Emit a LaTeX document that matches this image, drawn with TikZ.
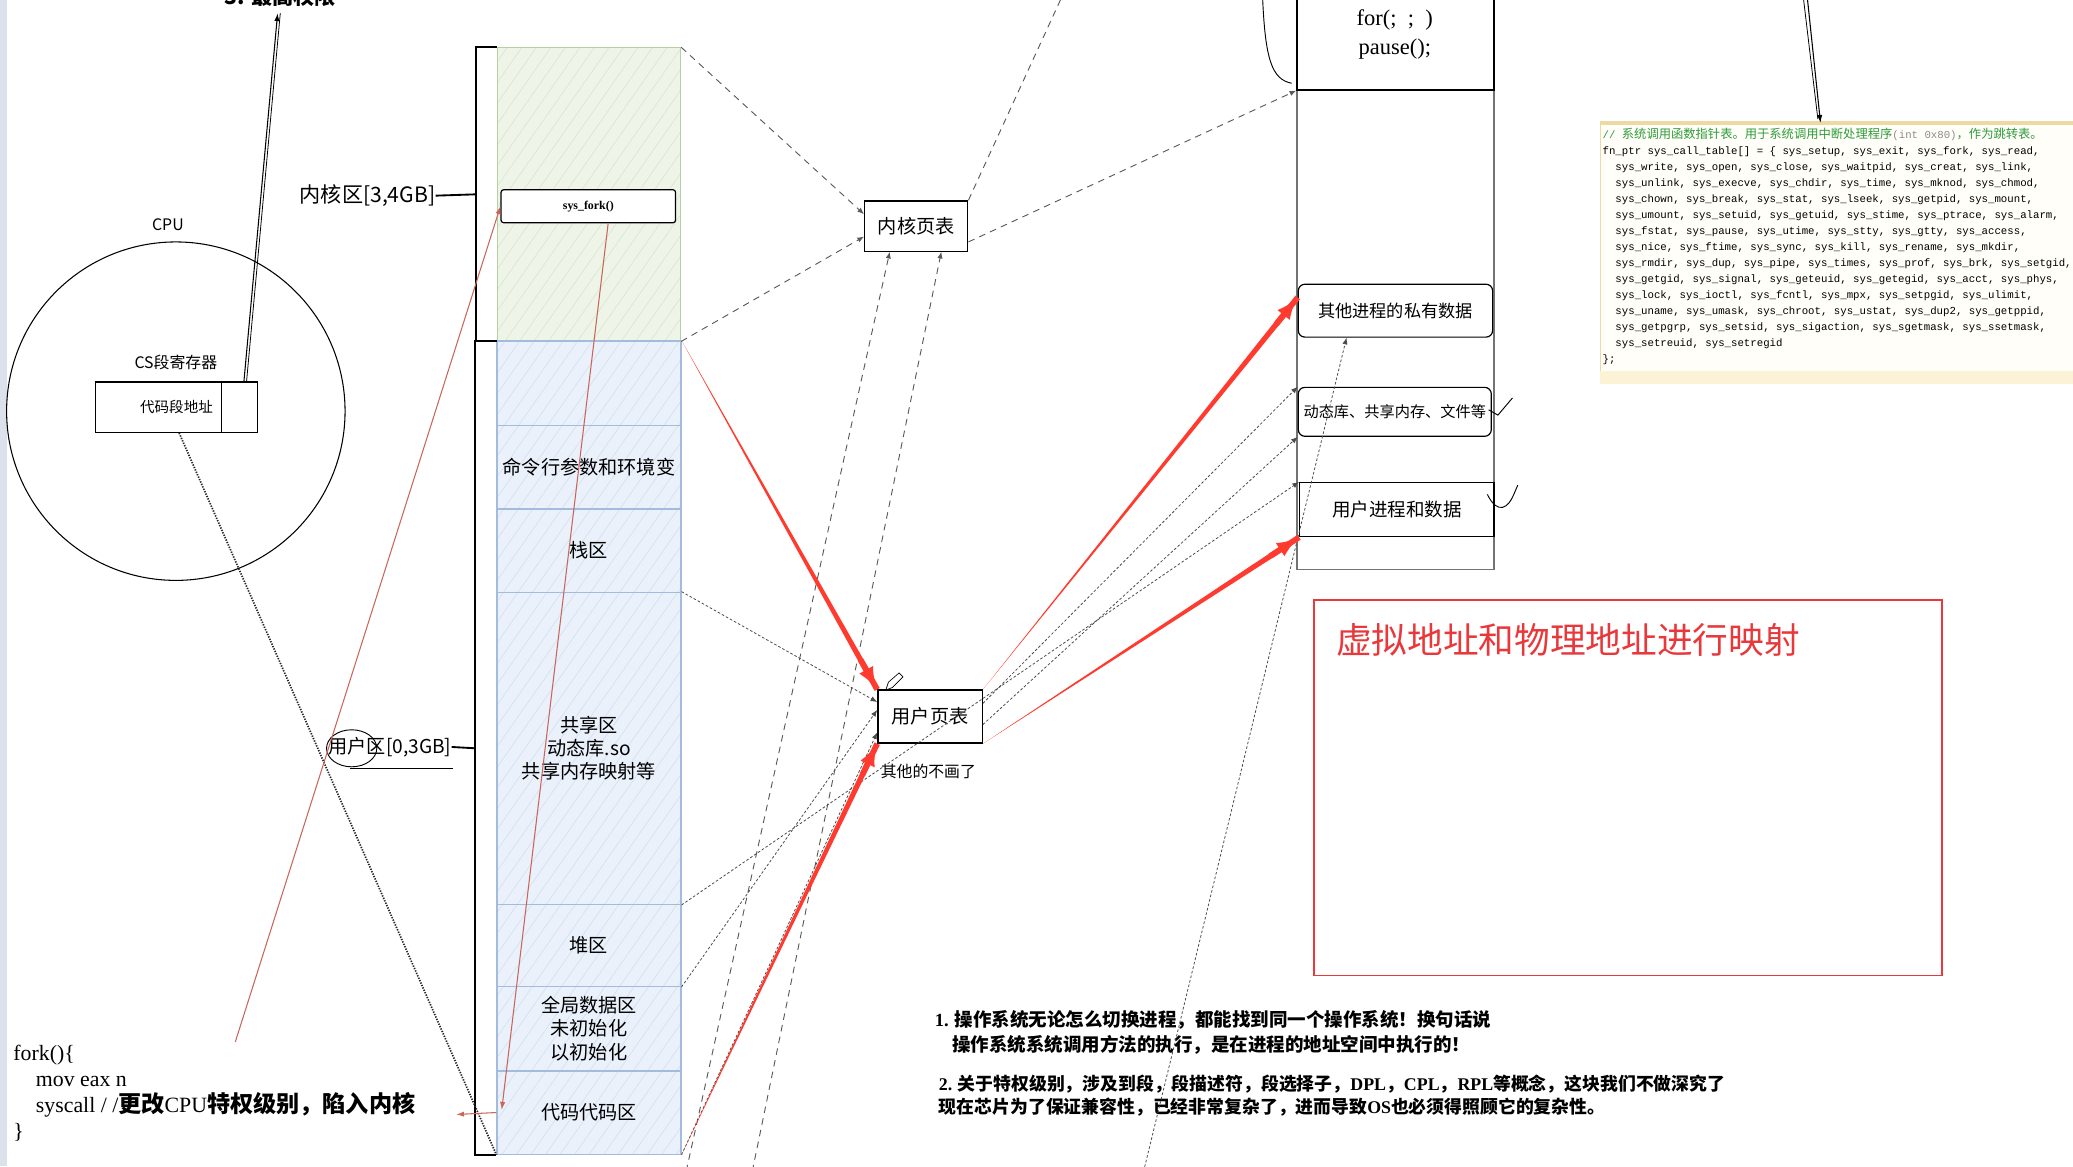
\documentclass[tikz,border=0pt]{standalone}
\usepackage{fontspec}
\setmainfont{Liberation Serif}
\newfontfamily\cjk{Noto Sans CJK SC}
\newfontfamily\codefont{Liberation Mono}
\usetikzlibrary{arrows.meta, calc, patterns.meta}

\definecolor{kfill}{HTML}{EEF5E8}
\definecolor{kedge}{HTML}{B5D1A3}
\definecolor{khatch}{HTML}{D8E7CC}
\definecolor{ufill}{HTML}{EAF1FA}
\definecolor{uedge}{HTML}{A3BCDB}
\definecolor{uhatch}{HTML}{D3E1F2}
\definecolor{redhot}{HTML}{FF3B30}
\definecolor{redthin}{HTML}{C9665A}
\definecolor{mapred}{HTML}{E8383B}
\definecolor{tabedge}{HTML}{EFD9A2}
\definecolor{tabband}{HTML}{FCF2D6}
\definecolor{tabfill}{HTML}{FFFEF8}
\definecolor{cmtgreen}{HTML}{2F9B3A}
\definecolor{strip}{HTML}{DCE2EC}

\tikzset{
  >=Latex,
  kernblk/.style={
    draw=kedge, line width=0.8pt, preaction={fill=kfill},
    pattern={Lines[angle=55,distance=9pt,line width=0.5pt]}, pattern color=khatch,
    minimum width=139pt, inner sep=0pt
  },
  userblk/.style={
    draw=uedge, line width=1pt, preaction={fill=ufill},
    pattern={Lines[angle=55,distance=9pt,line width=0.5pt]}, pattern color=uhatch,
    minimum width=139pt, inner sep=0pt, align=center,
    font=\cjk\fontsize{14.5}{17.5}\selectfont
  },
  forkbox/.style={
    draw, line width=0.9pt, fill=white, rounded corners=2pt,
    minimum width=132pt, minimum height=25pt, font=\bfseries\fontsize{9}{10}\selectfont
  },
  ptab/.style={
    draw, line width=1pt, fill=white, minimum width=78pt, minimum height=38pt,
    font=\cjk\fontsize{14.5}{17}\selectfont
  },
  physbox/.style={
    draw, line width=0.9pt, fill=white, rounded corners=5pt, minimum width=147pt,
    font=\cjk\fontsize{13}{15}\selectfont
  },
  hand/.style={font=\cjk\fontsize{#1}{#1}\selectfont, inner sep=0pt},
  note/.style={font=\cjk\bfseries\fontsize{14}{19}\selectfont, align=left, inner sep=0pt},
  bracket/.style={line width=1.4pt, draw=black},
  kdash/.style={draw=black!65, line width=0.7pt, dash pattern=on 5pt off 4pt,
    -{Latex[length=5pt,width=4pt]}},
  udot/.style={draw=black!70, line width=0.6pt, dash pattern=on 2pt off 1.5pt,
    -{Latex[length=5pt,width=4pt]}},
  densedot/.style={draw=black!85, line width=1.3pt, dash pattern=on 1pt off 1pt},
  thinred/.style={draw=redthin, line width=0.8pt, -{Latex[length=6pt,width=4pt]}},
  sketch/.style={draw=black, line width=0.8pt, -{Latex[length=6pt,width=4pt]}}
}

% tapered red arrow, thin at the start
\newcommand\redtaper[2]{%
  \fill[redhot] (#1) -- ($(#2)!2.2pt!90:(#1)$) -- ($(#2)!2.2pt!-90:(#1)$) -- cycle;
  \draw[redhot, line width=4.4pt, -{Latex[length=17pt,width=12pt]}] ($(#2)!26pt!(#1)$) -- (#2);
}

\begin{document}
\begin{tikzpicture}[x=1pt, y=-1pt]
  \useasboundingbox (0,0) rectangle (1568,882);
  \fill[strip] (0,0) rectangle (5,882);

  % CPU
  \node[circle, draw, line width=0.8pt, minimum size=256pt, inner sep=0pt] (cpu) at (133,311) {};
  \node[hand=12] (cpulbl) at (127,170) {CPU};
  \node[hand=12] (reglbl) at (133,274) {CS段寄存器};
  \node[draw, line width=1pt, fill=white, minimum width=123pt, minimum height=38pt,
        font=\cjk\fontsize{11}{12}\selectfont] (reg) at (133.5,308) {代码段地址};
  \draw[line width=0.8pt] ([xshift=-28pt]reg.north east) -- ([xshift=-28pt]reg.south east);
  \node[font=\cjk\bfseries\fontsize{16}{18}\selectfont] (captop) at (212,-3) {3. 最高权限};
  \coordinate (capin) at (210,10);
  \draw[sketch] ([xshift=-11pt]reg.north east) -- (capin);
  \draw[line width=0.6pt] ([xshift=-9pt]reg.north east) -- ([xshift=2pt]capin);

  % virtual address space
  \node[kernblk, minimum height=222pt] (kern) at (445.5,147) {};
  \node[forkbox] (fork) at (445,156) {sys\_fork()};
  \node[userblk, minimum height=64pt] (uhead) at (445.5,290) {};
  \node[userblk, minimum height=63pt] (args) at (445.5,353.5) {命令行参数和环境变};
  \node[userblk, minimum height=63pt] (stack) at (445.5,416.5) {栈区};
  \node[userblk, minimum height=236pt] (shared) at (445.5,566) {共享区\\动态库.so\\共享内存映射等};
  \node[userblk, minimum height=62pt] (heap) at (445.5,715) {堆区};
  \node[userblk, minimum height=64pt, font=\cjk\fontsize{14.5}{18}\selectfont] (data) at (445.5,778) {全局数据区\\未初始化\\以初始化};
  \node[userblk, minimum height=63pt] (code) at (445.5,841.5) {代码代码区};

  \draw[bracket] (kern.north west) -| ([xshift=-16pt]kern.west) |- (kern.south west);
  \draw[bracket] (uhead.north west) -| ([xshift=-16pt]shared.west) |- (code.south west);
  \node[hand=16] (klbl) at (278,148) {内核区[3,4GB]};
  \draw[bracket] (klbl.east) -- ([xshift=-16pt]kern.west);
  \node[hand=14.5] (ulbl) at (295,565) {用户区[0,3GB]};
  \draw[bracket] (ulbl.east) -- ([xshift=-16pt]shared.west);
  \draw[line width=0.7pt] (266,566) ellipse [x radius=19pt, y radius=14pt];
  \draw[line width=0.8pt] (265,581) -- (343,581);

  % fork code
  \node[anchor=north west, align=left, inner sep=0pt, font=\fontsize{16.5}{19.7}\selectfont] (forkcode) at (10,790)
    {fork()\{\\
     \hspace*{17pt}mov eax n\\
     \hspace*{17pt}syscall / /{\cjk\bfseries\fontsize{17.5}{19.7}\selectfont 更改}CPU{\cjk\bfseries\fontsize{17.5}{19.7}\selectfont 特权级别，陷入内核}\\
     \}};

  % page tables
  \node[ptab] (ktab) at (693,171) {内核页表};
  \node[ptab, minimum width=79pt, minimum height=40pt] (utab) at (703.5,542) {用户页表};
  \node[hand=12, anchor=north west] (skip) at (666,578) {其他的不画了};
  \draw[line width=0.5pt] (670,522) -- (672,516) -- (680,509) -- (683,512) -- (675,520) -- cycle;

  % physical memory
  \node[draw=black!55, line width=0.9pt, minimum width=149pt, minimum height=451pt] (phys) at (1055.5,205.5) {};
  \node[draw, line width=1.1pt, fill=white, minimum width=149pt, minimum height=100pt] (loop) at (1055.5,18) {};
  \node[align=center, font=\fontsize{17}{22}\selectfont] (looptxt) at (1055,26) {for(;\ \ ;\ \ )\\pause();};
  \coordinate (loopcurve) at (977,63);
  \draw[line width=0.7pt] (955,-2) .. controls (957,45) and (962,60) .. (loopcurve);
  \node[physbox, minimum height=40pt] (priv) at (1055.5,235) {其他进程的私有数据};
  \node[physbox, minimum width=146pt, minimum height=37pt, font=\cjk\fontsize{11.5}{13}\selectfont] (shlib) at (1055,311.5) {动态库、共享内存、文件等};
  \node[physbox, rounded corners=0pt, minimum height=41pt, font=\cjk\fontsize{14}{16}\selectfont] (uproc) at (1056.5,385.5) {用户进程和数据};
  \draw[line width=0.7pt] (1126,310) -- (1133,314) -- (1144,301);
  \draw[line width=0.7pt] (1125,374) .. controls (1133,390) and (1141,384) .. (1145,374) -- (1148,367);

  % code table
  \node[draw=tabedge, line width=0.8pt, fill=tabfill, minimum width=365pt, minimum height=197pt, anchor=north west] (table) at (1210,93) {};
  \fill[tabband] ([yshift=0.5pt]table.south west) rectangle ([yshift=10pt]table.south east);
  \draw[tabedge, line width=3pt] (table.north west) -- (table.north east);
  \node[anchor=north west, align=left, inner sep=0pt, font=\codefont\fontsize{8.1}{12.1}\selectfont] (tabtext) at (1212,97)
    {{\color{cmtgreen}// {\cjk\fontsize{9.3}{12.1}\selectfont 系统调用函数指针表。用于系统调用中断处理程序}}{\color{black!45}(int 0x80)}{\color{cmtgreen}\cjk\fontsize{9.3}{12.1}\selectfont ，作为跳转表。}\\
     fn\_ptr sys\_call\_table[] = \{ sys\_setup, sys\_exit, sys\_fork, sys\_read,\\
     \ \ sys\_write, sys\_open, sys\_close, sys\_waitpid, sys\_creat, sys\_link,\\
     \ \ sys\_unlink, sys\_execve, sys\_chdir, sys\_time, sys\_mknod, sys\_chmod,\\
     \ \ sys\_chown, sys\_break, sys\_stat, sys\_lseek, sys\_getpid, sys\_mount,\\
     \ \ sys\_umount, sys\_setuid, sys\_getuid, sys\_stime, sys\_ptrace, sys\_alarm,\\
     \ \ sys\_fstat, sys\_pause, sys\_utime, sys\_stty, sys\_gtty, sys\_access,\\
     \ \ sys\_nice, sys\_ftime, sys\_sync, sys\_kill, sys\_rename, sys\_mkdir,\\
     \ \ sys\_rmdir, sys\_dup, sys\_pipe, sys\_times, sys\_prof, sys\_brk, sys\_setgid,\\
     \ \ sys\_getgid, sys\_signal, sys\_geteuid, sys\_getegid, sys\_acct, sys\_phys,\\
     \ \ sys\_lock, sys\_ioctl, sys\_fcntl, sys\_mpx, sys\_setpgid, sys\_ulimit,\\
     \ \ sys\_uname, sys\_umask, sys\_chroot, sys\_ustat, sys\_dup2, sys\_getppid,\\
     \ \ sys\_getpgrp, sys\_setsid, sys\_sigaction, sys\_sgetmask, sys\_ssetmask,\\
     \ \ sys\_setreuid, sys\_setregid\\
     \};};
  \coordinate (tabin) at (1367,-2);
  \draw[sketch] (tabin) -- ([xshift=167pt]table.north west);
  \draw[line width=0.6pt] ([xshift=-3pt]tabin) -- ([xshift=165pt,yshift=3pt]table.north west);

  % mapping box
  \node[draw=mapred, line width=1.2pt, minimum width=475pt, minimum height=284pt] (mapbox) at (1231.5,596) {};
  \node[anchor=west, text=mapred, font=\cjk\fontsize{27}{29}\selectfont] (maptxt) at (1007,484) {虚拟地址和物理地址进行映射};

  % notes
  \node[note, anchor=north west] (note1) at (707,764)
    {{\rmfamily 1.} 操作系统无论怎么切换进程，都能找到同一个操作系统！换句话说\\
     \hspace*{13pt}操作系统系统调用方法的执行，是在进程的地址空间中执行的！};
  \node[note, font=\cjk\bfseries\fontsize{13.5}{17}\selectfont, anchor=north west] (note2) at (710,813)
    {{\rmfamily 2.} 关于特权级别，涉及到段，段描述符，段选择子，{\rmfamily DPL}，{\rmfamily CPL}，{\rmfamily RPL}等概念，这块我们不做深究了\\
     现在芯片为了保证兼容性，已经非常复杂了，进而导致{\rmfamily OS}也必须得照顾它的复杂性。};

  % connector end points
  \coordinate (kin1) at ([yshift=9pt]ktab.west);
  \coordinate (kin2) at ([yshift=-8pt]ktab.west);
  \coordinate (kout) at ([yshift=-12pt]ktab.east);
  \coordinate (ktop) at (803,-2);
  \coordinate (kb1) at (519,886);
  \coordinate (kb2) at (569,886);
  \coordinate (kbin1) at ([xshift=-20pt]ktab.south);
  \coordinate (kbin2) at ([xshift=19pt]ktab.south);
  \coordinate (uin1) at ([yshift=11pt]utab.west);
  \coordinate (uin2) at ([yshift=5pt]utab.west);
  \coordinate (uin3) at ([yshift=-12pt]utab.west);
  \coordinate (uout1) at ([yshift=10pt]utab.east);
  \coordinate (uout2) at ([yshift=-6pt]utab.east);
  \coordinate (pb) at (865,886);
  \coordinate (privb) at ([xshift=-37pt]priv.south);
  \coordinate (privin) at ([yshift=10pt]priv.west);
  \coordinate (redstart) at (178,788);
  \coordinate (codein) at ([xshift=4pt,yshift=2pt]code.west);
  \coordinate (syscallend) at (345,843);

  % register to code
  \draw[densedot] ([xshift=2pt]reg.south) -- (code.south west);

  % kernel mapping
  \draw[kdash] (kern.north east) -- (kin1);
  \draw[kdash] (kern.south east) -- (kin2);
  \draw[kdash] (kout) -- (loop.south west);
  \draw[kdash, -] (ktab.north east) -- (ktop);
  \draw[kdash] (kb1) -- (kbin1);
  \draw[kdash] (kb2) -- (kbin2);

  % user mapping
  \draw[udot] (shared.north east) -- (uin1);
  \draw[udot] (heap.south east) -- (uin2);
  \draw[udot] (code.south east) -- (uin3);
  \draw[udot] (shared.south east) -- (uproc.north west);
  \draw[udot] (uout1) -- (shlib.north west);
  \draw[udot] (uout2) -- (shlib.south west);
  \draw[udot] (pb) -- (privb);

  % system call path
  \draw[thinred] (redstart) -- (fork.west);
  \draw[thinred] ([xshift=15pt]fork.south) -- (codein);
  \draw[thinred] (code.west) -- (syscallend);

  \redtaper{uhead.north east}{utab.north west}
  \redtaper{utab.north east}{privin}
  \redtaper{utab.south east}{uproc.south west}
  \redtaper{code.south east}{utab.south west}
\end{tikzpicture}
\end{document}
